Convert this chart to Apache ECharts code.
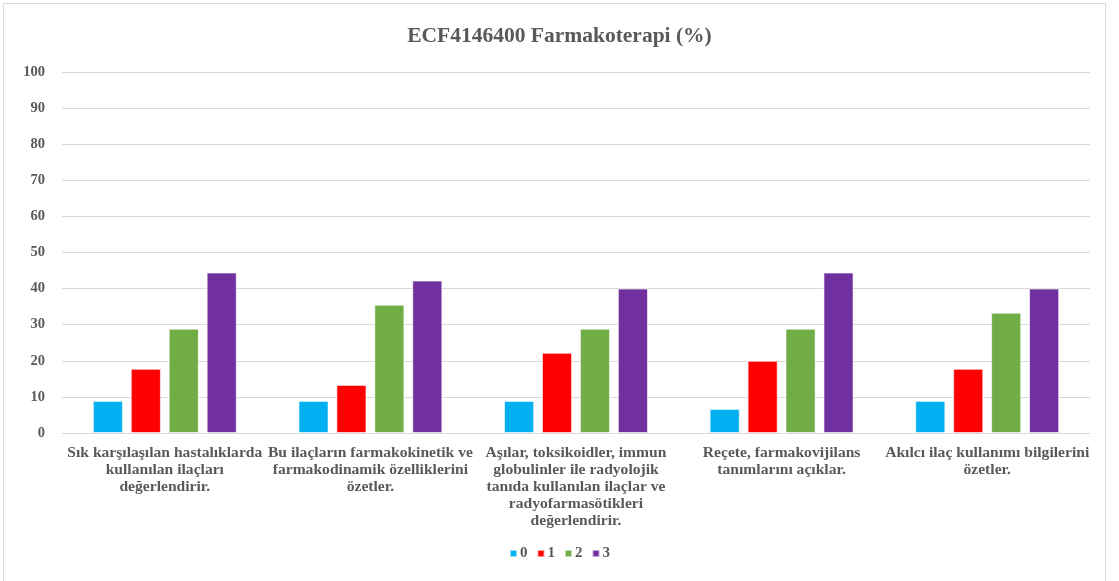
<!DOCTYPE html>
<html>
<head>
<meta charset="utf-8">
<script src="https://cdn.jsdelivr.net/npm/echarts@6/dist/echarts.min.js"></script>
<style>
html,body{margin:0;padding:0;background:#fff;}
#frame{position:absolute;left:3px;top:3px;width:1103px;height:580px;border:1px solid #d9d9d9;box-sizing:border-box;}
#chart{position:absolute;left:0;top:0;width:1119px;height:581px;}
</style>
</head>
<body>
<div id="frame"></div>
<div id="chart"></div>
<script>
const categories = [
  "Sık karşılaşılan hastalıklarda\nkullanılan ilaçları\ndeğerlendirir.",
  "Bu ilaçların farmakokinetik ve\nfarmakodinamik özelliklerini\nözetler.",
  "Aşılar, toksikoidler, immun\nglobulinler ile radyolojik\ntanıda kullanılan ilaçlar ve\nradyofarmasötikleri\ndeğerlendirir.",
  "Reçete, farmakovijilans\ntanımlarını açıklar.",
  "Akılcı ilaç kullanımı bilgilerini\nözetler."
];
const seriesNames = ["0", "1", "2", "3"];
const s0 = [8.89, 8.89, 8.89, 6.67, 8.89];
const s1 = [17.78, 13.33, 22.22, 20.0, 17.78];
const s2 = [28.89, 35.56, 28.89, 28.89, 33.33];
const s3 = [44.44, 42.22, 40.0, 44.44, 40.0];
const yTicks = [0, 10, 20, 30, 40, 50, 60, 70, 80, 90, 100];

const colors = ["#00b0f0", "#ff0000", "#70ad47", "#7030a0"];
const font = "'Liberation Serif', 'Times New Roman', serif";
const txt = "#595959";

const chart = echarts.init(document.getElementById('chart'));
const data = [s0, s1, s2, s3];
chart.setOption({
  animation: false,
  color: colors,
  title: {
    text: "ECF4146400 Farmakoterapi (%)",
    left: 'center', top: 20,
    textStyle: {fontFamily: font, fontWeight: 'bold', fontSize: 21.5, color: txt}
  },
  legend: {
    bottom: 15, left: 'center',
    itemWidth: 7, itemHeight: 7, itemGap: 9,
    icon: 'rect',
    textStyle: {fontFamily: font, fontWeight: 'bold', fontSize: 15, color: txt, padding: [0,0,0,-2]},
    data: seriesNames
  },
  grid: {left: 62, right: 29, top: 72, bottom: 148, containLabel: false},
  xAxis: {
    type: 'category',
    data: categories,
    axisTick: {show: false},
    axisLine: {lineStyle: {color: '#d9d9d9', width: 1}},
    axisLabel: {fontFamily: font, fontWeight: 'bold', fontSize: 15.6, color: txt, lineHeight: 17, margin: 11, interval: 0}
  },
  yAxis: {
    type: 'value', min: 0, max: 100, interval: 10,
    axisLine: {show: false}, axisTick: {show: false},
    splitLine: {lineStyle: {color: '#d9d9d9', width: 1}},
    axisLabel: {fontFamily: font, fontWeight: 'bold', fontSize: 14.5, color: txt, margin: 17,
      formatter: v => yTicks.includes(v) ? String(v) : ''}
  },
  series: seriesNames.map((n, i) => ({
    name: n, type: 'bar', data: data[i],
    barGap: '26%', barCategoryGap: '30%',
    itemStyle: {borderColor: 'rgba(255,255,255,0.6)', borderWidth: 1}
  }))
});
</script>
</body>
</html>
